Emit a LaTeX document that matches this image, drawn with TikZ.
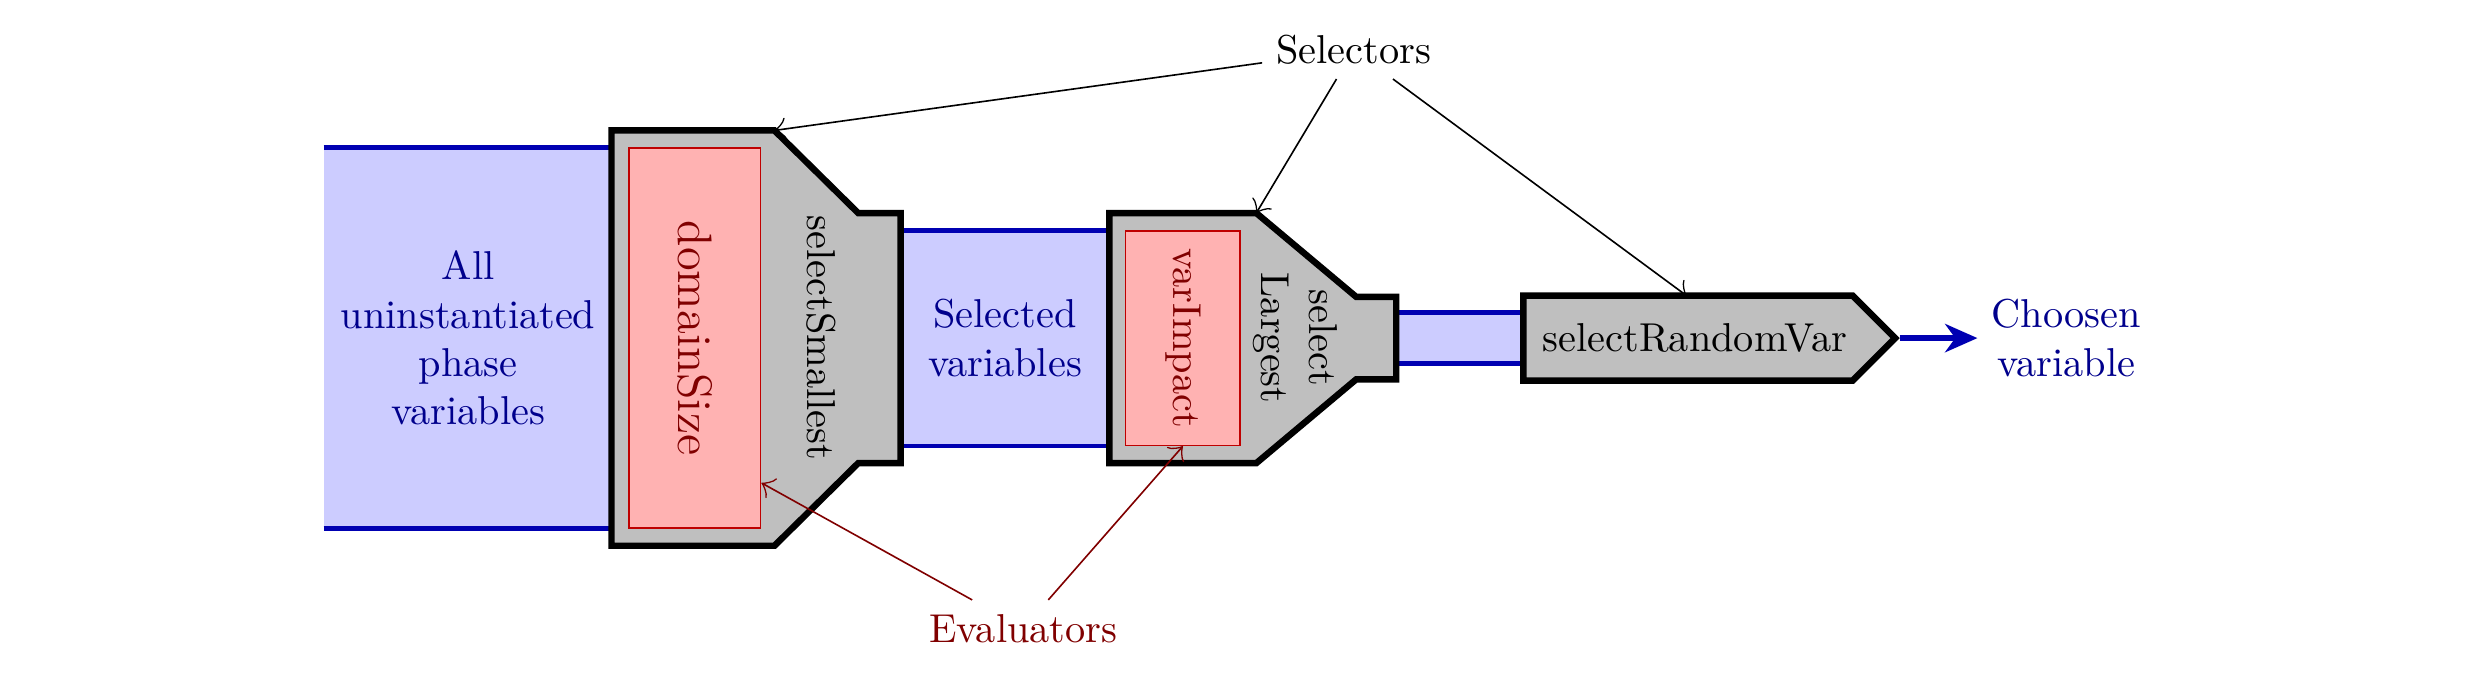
\documentclass[tikz,border=0pt]{standalone}
\usepackage{tikz}
\usepackage{graphicx}
\usetikzlibrary{shapes.symbols,calc,arrows.meta}

\tikzset{
  >={Classical TikZ Rightarrow[scale=1.6]},
  flow/.style={fill=blue!20},
  flowline/.style={draw=blue!70!black, very thick},
  selector/.style={draw=black, fill=gray!50, ultra thick, line join=miter},
  evaluator/.style={rectangle, draw=red!75!black, fill=red!30, text=red!50!black, inner sep=0pt},
  flowtext/.style={text=blue!55!black, align=center},
}

\begin{document}
\begin{tikzpicture}
  \useasboundingbox (0,-2.955) rectangle (21.59,2.947);
  % Flows
  \fill[flow] (2.82,-1.66) rectangle (5.33,1.66);
  \draw[flowline] (2.82,1.66) -- (5.33,1.66) (2.82,-1.66) -- (5.33,-1.66);
  \fill[flow] (7.85,-0.94) rectangle (9.67,0.94);
  \draw[flowline] (7.85,0.94) -- (9.67,0.94) (7.85,-0.94) -- (9.67,-0.94);
  \fill[flow] (12.17,-0.22) rectangle (13.25,0.22);
  \draw[flowline] (12.17,0.22) -- (13.25,0.22) (12.17,-0.22) -- (13.25,-0.22);
  % Selectors
  \draw[selector] (5.33,1.81) -- (6.75,1.81) -- (7.48,1.09) -- (7.85,1.09) -- (7.85,-1.09)
    -- (7.48,-1.09) -- (6.75,-1.81) -- (5.33,-1.81) -- cycle;
  \draw[selector] (9.67,1.09) -- (10.95,1.09) -- (11.82,0.36) -- (12.17,0.36) -- (12.17,-0.36)
    -- (11.82,-0.36) -- (10.95,-1.09) -- (9.67,-1.09) -- cycle;
  \coordinate (small-top) at (6.75,1.81);
  \coordinate (large-top) at (10.95,1.09);
  \coordinate (random-top) at (14.70,0.37);
  % Nodes
  \node (all) [flowtext] at (4.08,0) {All\\uninstantiated\\phase\\variables};
  \node (selected) [flowtext] at (8.76,0) {Selected\\variables};
  \node (domainsize) [evaluator, minimum width=1.15cm, minimum height=3.31cm] at (6.055,0) {\rotatebox{-90}{\large domainSize}};
  \node (varimpact) [evaluator, minimum width=1.0cm, minimum height=1.87cm] at (10.31,0) {\rotatebox{-90}{varImpact}};
  \node (smallest) [rotate=-90] at (7.16,0) {selectSmallest};
  \node (largest) [rotate=-90, align=center] at (11.29,0) {select\\Largest};
  \node (randomvar) [signal, signal to=east, selector, minimum width=3.24cm, minimum height=0.74cm, inner sep=0pt, anchor=west] at (13.25,0) {\hspace*{1.2mm}selectRandomVar};
  \node (chosen) [flowtext] at (18.01,0) {Choosen\\variable};
  \node (selectors) at (11.8,2.51) {Selectors};
  \node (evaluators) [text=red!50!black] at (8.92,-2.53) {Evaluators};
  \coordinate (domain-tip) at ($(domainsize.south east)+(0,0.4)$);
  % Arrows
  \draw[->] (selectors) -- (small-top);
  \draw[->] (selectors) -- (large-top);
  \draw[->] (selectors) -- (random-top);
  \draw[->, red!50!black] (evaluators) -- (domain-tip);
  \draw[->, red!50!black] (evaluators) -- (varimpact.south);
  \draw[flowline, ultra thick, -{Stealth[length=8pt, width=7pt, inset=2.5pt]}] (randomvar.east) -- (chosen);
\end{tikzpicture}
\end{document}
